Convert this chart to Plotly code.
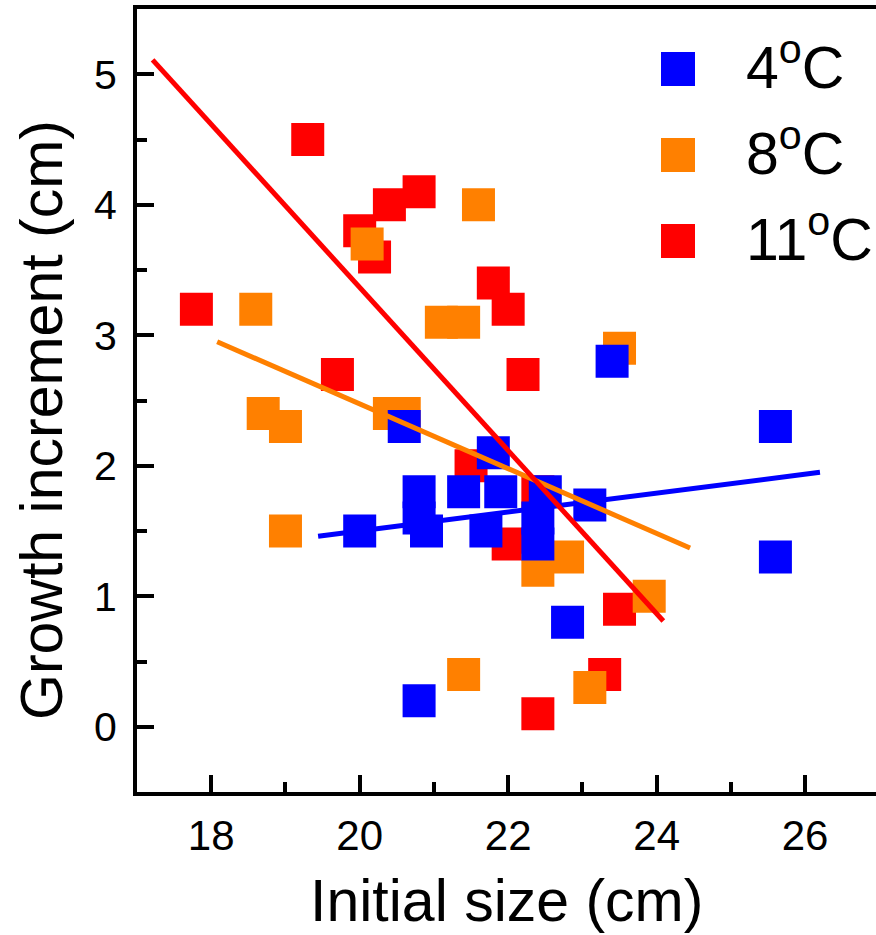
import plotly.graph_objects as go

# ---- data ----
series_names = ["4<sup>o</sup>C", "8<sup>o</sup>C", "11<sup>o</sup>C"]
series_colors = ["#0000FF", "#FF8000", "#FF0000"]

x4 = [20.0, 20.8, 20.8, 20.9, 20.6, 21.4, 21.9, 21.7, 21.8, 22.5, 22.4, 22.4, 23.1, 23.4, 22.8, 20.8, 25.6, 25.6]
y4 = [1.5, 1.8, 1.6, 1.5, 2.3, 1.8, 1.8, 1.5, 2.1, 1.8, 1.6, 1.4, 1.7, 2.8, 0.8, 0.2, 2.3, 1.3]

x8 = [18.6, 18.7, 19.0, 19.0, 20.1, 20.4, 20.6, 21.1, 21.4, 21.6, 23.5, 22.8, 22.4, 23.9, 21.4, 23.1]
y8 = [3.2, 2.4, 2.3, 1.5, 3.7, 2.4, 2.4, 3.1, 3.1, 4.0, 2.9, 1.3, 1.2, 1.0, 0.4, 0.3]

x11 = [17.8, 19.3, 20.0, 20.2, 20.4, 20.8, 19.7, 21.8, 22.0, 22.2, 21.5, 22.0, 22.4, 23.5, 23.3, 22.4]
y11 = [3.2, 4.5, 3.8, 3.6, 4.0, 4.1, 2.7, 3.4, 3.2, 2.7, 2.0, 1.4, 1.8, 0.9, 0.4, 0.1]

# linear fit lines (end points)
fit4_x = [19.44, 26.2]
fit4_y = [1.46, 1.95]
fit8_x = [18.08, 24.45]
fit8_y = [2.95, 1.37]
fit11_x = [17.21, 24.09]
fit11_y = [5.11, 0.81]

x_ticks = [18, 20, 22, 24, 26]
y_ticks = [0, 1, 2, 3, 4, 5]

xs = [x4, x8, x11]
ys = [y4, y8, y11]
fxs = [fit4_x, fit8_x, fit11_x]
fys = [fit4_y, fit8_y, fit11_y]

FONT = "Liberation Sans, Arial, sans-serif"
W, H = 876, 935
ML, MR, MT, MB = 137, 0, 9, 143
PW, PH = W - ML - MR, H - MT - MB

fig = go.Figure()

# markers: red first (bottom), then orange, then blue
for i in [2, 1, 0]:
    fig.add_trace(go.Scatter(
        x=xs[i], y=ys[i], mode="markers",
        marker=dict(symbol="square", size=33, color=series_colors[i], line=dict(width=0)),
        showlegend=False, cliponaxis=False))

# fit lines on top
for i in [0, 1, 2]:
    fig.add_trace(go.Scatter(
        x=fxs[i], y=fys[i], mode="lines",
        line=dict(color=series_colors[i], width=5),
        showlegend=False))

def px_to_paper_x(px):
    return (px - ML) / PW

def px_to_paper_y(py):
    return (H - MB - py) / PH

shapes = []
annotations = []
# legend drawn manually (large swatches)
leg_cy = [69, 155, 241]
for i in range(3):
    shapes.append(dict(type="rect", xref="paper", yref="paper",
                       xsizemode="pixel", ysizemode="pixel",
                       xanchor=px_to_paper_x(678), yanchor=px_to_paper_y(leg_cy[i]),
                       x0=-17, x1=17, y0=-17, y1=17,
                       fillcolor=series_colors[i], line=dict(width=0)))
    annotations.append(dict(text=series_names[i], xref="paper", yref="paper",
                            x=px_to_paper_x(744), y=px_to_paper_y(leg_cy[i] - 5),
                            xanchor="left", yanchor="middle", showarrow=False,
                            font=dict(family=FONT, size=59, color="black")))

# axis titles
annotations.append(dict(text="Initial size (cm)", xref="paper", yref="paper",
                        x=0.5, y=px_to_paper_y(901),
                        xanchor="center", yanchor="middle", showarrow=False,
                        font=dict(family=FONT, size=59, color="black")))
annotations.append(dict(text="Growth increment (cm)", xref="paper", yref="paper",
                        x=px_to_paper_x(42), y=px_to_paper_y(420),
                        xanchor="center", yanchor="middle", showarrow=False, textangle=-90,
                        font=dict(family=FONT, size=59, color="black")))

fig.update_layout(
    width=W, height=H,
    margin=dict(l=ML, r=MR, t=MT, b=MB),
    paper_bgcolor="white", plot_bgcolor="white",
    shapes=shapes, annotations=annotations,
    showlegend=False,
)

fig.update_xaxes(
    range=[17, 26.955], tickvals=x_ticks, ticktext=[str(v) for v in x_ticks],
    showline=True, linewidth=4, linecolor="black", mirror=True,
    ticks="inside", ticklen=17, tickwidth=3.5, tickcolor="black",
    minor=dict(ticks="inside", ticklen=10, tickwidth=3.5, tickcolor="black", dtick=1, tick0=17, showgrid=False),
    showgrid=False, zeroline=False,
    ticklabelstandoff=4,
    tickfont=dict(family=FONT, size=42, color="black"),
)
fig.update_yaxes(
    range=[-0.5, 5.5], tickvals=y_ticks, ticktext=[str(v) for v in y_ticks],
    showline=True, linewidth=4, linecolor="black", mirror=False,
    ticks="inside", ticklen=17, tickwidth=3.5, tickcolor="black",
    minor=dict(ticks="inside", ticklen=10, tickwidth=3.5, tickcolor="black", dtick=0.5, tick0=0, showgrid=False),
    showgrid=False, zeroline=False,
    ticklabelstandoff=8,
    tickfont=dict(family=FONT, size=41, color="black"),
)

fig.write_html("out.html")
